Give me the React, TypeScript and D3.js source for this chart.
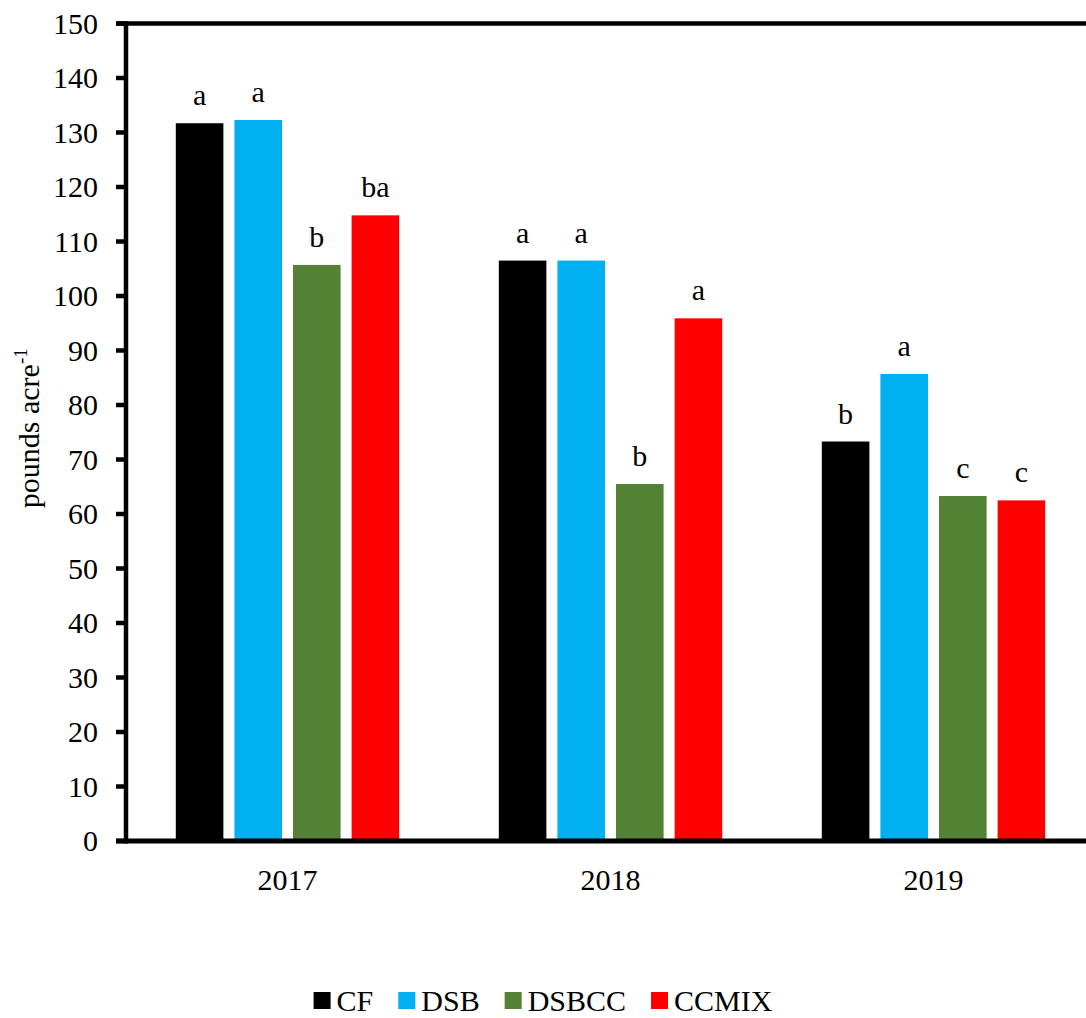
import React, { useEffect, useRef } from "react";
import * as d3 from "d3";

// Years on the category axis
const years = ["2017", "2018", "2019"];

// Treatments (series)
const series = ["CF", "DSB", "DSBCC", "CCMIX"];
const seriesColors = ["#000000", "#00B0F0", "#548235", "#FF0000"];

// pounds acre-1, by treatment, per year
const cfValues = [131.7, 106.5, 73.3];
const dsbValues = [132.3, 106.5, 85.7];
const dsbccValues = [105.7, 65.5, 63.3];
const ccmixValues = [114.8, 95.9, 62.5];

// Mean separation letters, by treatment, per year
const cfLetters = ["a", "a", "b"];
const dsbLetters = ["a", "a", "a"];
const dsbccLetters = ["b", "b", "c"];
const ccmixLetters = ["ba", "a", "c"];

const yTicks = [0, 10, 20, 30, 40, 50, 60, 70, 80, 90, 100, 110, 120, 130, 140, 150];

const W = 1086;
const H = 1018;
const FONT = "Liberation Serif, Times New Roman, Times, serif";

export default function App() {
  const ref = useRef<SVGSVGElement | null>(null);

  useEffect(() => {
    const svg = d3.select(ref.current);
    svg.selectAll("*").remove();

    const values = [cfValues, dsbValues, dsbccValues, ccmixValues];
    const letters = [cfLetters, dsbLetters, dsbccLetters, ccmixLetters];

    const left = 126;
    const bandW = 323;
    const y = d3.scaleLinear().domain([0, 150]).range([841, 23.5]);
    const x0 = d3
      .scaleBand<string>()
      .domain(years)
      .range([left, left + bandW * years.length])
      .padding(0);
    const groupW = 223.4;
    const x1 = d3
      .scaleBand<string>()
      .domain(series)
      .range([(bandW - groupW) / 2, (bandW - groupW) / 2 + groupW])
      .paddingInner(0.188)
      .paddingOuter(0);

    const g = svg.append("g").attr("font-family", FONT);

    // bars with their letters
    series.forEach((s, si) => {
      years.forEach((yr, yi) => {
        const v = values[si][yi];
        const bx = (x0(yr) as number) + (x1(s) as number);
        g.append("rect")
          .attr("x", bx)
          .attr("y", y(v))
          .attr("width", x1.bandwidth())
          .attr("height", y(0) - y(v))
          .attr("fill", seriesColors[si]);
        g.append("text")
          .attr("x", bx + x1.bandwidth() / 2)
          .attr("y", y(v) - 18)
          .attr("text-anchor", "middle")
          .attr("font-size", 30)
          .attr("fill", "#000")
          .text(letters[si][yi]);
      });
    });

    // top frame line
    g.append("line")
      .attr("x1", 116)
      .attr("x2", W)
      .attr("y1", y(150))
      .attr("y2", y(150))
      .attr("stroke", "#000")
      .attr("stroke-width", 4.5);

    // y axis
    g.append("line")
      .attr("x1", left)
      .attr("x2", left)
      .attr("y1", y(150) - 2.25)
      .attr("y2", y(0) + 2.5)
      .attr("stroke", "#000")
      .attr("stroke-width", 4.5);

    yTicks.forEach((t) => {
      g.append("line")
        .attr("x1", 116)
        .attr("x2", left)
        .attr("y1", y(t))
        .attr("y2", y(t))
        .attr("stroke", "#000")
        .attr("stroke-width", 4.5);
      g.append("text")
        .attr("x", 98)
        .attr("y", y(t))
        .attr("dy", "0.34em")
        .attr("text-anchor", "end")
        .attr("font-size", 30)
        .attr("fill", "#000")
        .text(String(t));
    });

    // x axis
    g.append("line")
      .attr("x1", 116)
      .attr("x2", W)
      .attr("y1", y(0))
      .attr("y2", y(0))
      .attr("stroke", "#000")
      .attr("stroke-width", 5);

    years.forEach((yr) => {
      g.append("text")
        .attr("x", (x0(yr) as number) + x0.bandwidth() / 2)
        .attr("y", 890)
        .attr("text-anchor", "middle")
        .attr("font-size", 30)
        .attr("fill", "#000")
        .text(yr);
    });

    // y axis title
    const title = g
      .append("text")
      .attr("transform", `translate(39, ${(y(0) + y(150)) / 2 - 4}) rotate(-90)`)
      .attr("text-anchor", "middle")
      .attr("font-size", 30)
      .attr("fill", "#000");
    title.append("tspan").text("pounds acre");
    title
      .append("tspan")
      .attr("font-size", 19)
      .attr("dy", -12)
      .text("-1");

    // legend
    const legend = g.append("g");
    let cursor = 0;
    const sq = 17;
    series.forEach((s, si) => {
      legend
        .append("rect")
        .attr("x", cursor)
        .attr("y", 992)
        .attr("width", sq)
        .attr("height", sq)
        .attr("fill", seriesColors[si]);
      const t = legend
        .append("text")
        .attr("x", cursor + sq + 6)
        .attr("y", 1011)
        .attr("font-size", 30)
        .attr("fill", "#000")
        .text(s);
      const tw = (t.node() as SVGTextElement).getComputedTextLength();
      cursor += sq + 6 + tw + (si < series.length - 1 ? 25 : 0);
    });
    legend.attr("transform", `translate(${(W - cursor) / 2}, 0)`);
  }, []);

  return (
    <svg
      ref={ref}
      width={W}
      height={H}
      style={{ position: "absolute", left: 0, top: 0, background: "#fff" }}
    />
  );
}
